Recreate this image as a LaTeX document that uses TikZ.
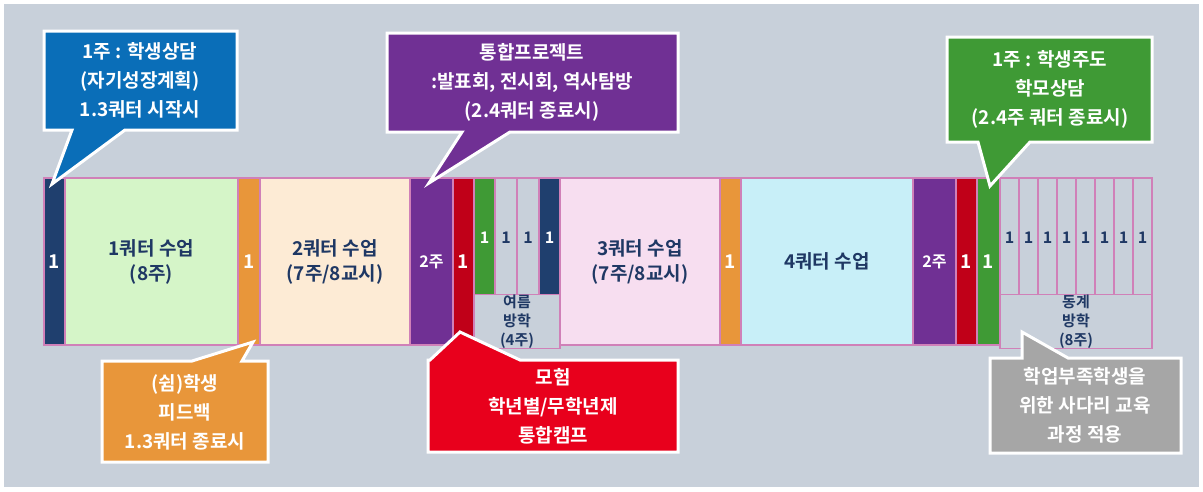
\documentclass[tikz,border=0pt]{standalone}
\usepackage{fontspec}
\setmainfont{Noto Sans CJK KR}[BoldFont={Noto Sans CJK KR Bold}]
\definecolor{bg}{HTML}{C8D0DA}
\definecolor{navy}{HTML}{1F3F6E}
\definecolor{lgreen}{HTML}{D5F5C8}
\definecolor{orng}{HTML}{E8963A}
\definecolor{peach}{HTML}{FDEBD5}
\definecolor{purp}{HTML}{703094}
\definecolor{dred}{HTML}{C00018}
\definecolor{grn}{HTML}{3F9A35}
\definecolor{pink}{HTML}{F7DEF0}
\definecolor{cyan}{HTML}{C8EFF8}
\definecolor{bord}{HTML}{D080B8}
\definecolor{bblue}{HTML}{0A6EB8}
\definecolor{bred}{HTML}{E8001C}
\definecolor{bgray}{HTML}{A6A6A6}
\definecolor{txt}{HTML}{1F3864}
\newcommand{\mycell}[7]{%
 \pgfmathsetmacro{\cw}{#4-#2}\pgfmathsetmacro{\ch}{#5-#3}%
 \node[cellbox,#6,minimum width=\cw pt,minimum height=\ch pt] (#1) at ({(#2+#4)/2},{(#3+#5)/2}) {#7};}
\tikzset{cellbox/.style={draw=bord,line width=1.2pt,inner sep=0pt,text=txt,font=\bfseries\fontsize{19}{25}\selectfont,align=center},
 wt/.style={text=white},
 sm/.style={font=\bfseries\fontsize{16}{20}\selectfont},
 xs/.style={font=\bfseries\fontsize{15}{19}\selectfont},
 callout/.style={draw=white,line width=3pt,line join=miter},
 ctext/.style={text=white,font=\bfseries\fontsize{19}{29}\selectfont,align=center}}
\begin{document}
\begin{tikzpicture}[x=1pt,y=-1pt]
\fill[white] (0,0) rectangle (1203,491);
\fill[bg] (4,4) rectangle (1199,487);
\useasboundingbox (0,0) rectangle (1203,491);
\mycell{c1}{44}{178}{65}{345}{fill=navy,wt}{1}
\mycell{q1}{65}{178}{238}{345}{fill=lgreen}{1쿼터 수업\\(8주)}
\mycell{o1}{238}{178}{260}{345}{fill=orng,wt}{1}
\mycell{q2}{260}{178}{410}{345}{fill=peach}{2쿼터 수업\\(7주/8교시)}
\mycell{p1}{410}{178}{453}{345}{fill=purp,wt,sm}{2주}
\mycell{r1}{453}{178}{474}{345}{fill=dred,wt}{1}
\mycell{g1}{474}{178}{495}{298}{fill=grn,wt,sm}{1}
\mycell{s1}{495}{178}{517}{298}{fill=bg,sm}{1}
\mycell{s2}{517}{178}{539}{298}{fill=bg,sm}{1}
\mycell{n2}{539}{178}{560}{298}{fill=navy,wt,sm}{1}
\mycell{sum}{474}{298}{560}{345}{fill=bg,xs}{여름\\방학\\(4주)}
\mycell{q3}{560}{178}{720}{345}{fill=pink}{3쿼터 수업\\(7주/8교시)}
\mycell{o2}{720}{178}{741}{345}{fill=orng,wt}{1}
\mycell{q4}{741}{178}{913}{345}{fill=cyan}{4쿼터 수업}
\mycell{p2}{913}{178}{956}{345}{fill=purp,wt,sm}{2주}
\mycell{r2}{956}{178}{977}{345}{fill=dred,wt}{1}
\mycell{g2}{977}{178}{1000}{345}{fill=grn,wt}{1}
\foreach \i in {0,...,7}{\pgfmathsetmacro{\xa}{1000+19*\i}\pgfmathsetmacro{\xb}{1019+19*\i}
 \mycell{w\i}{\xa}{178}{\xb}{298}{fill=bg,sm}{1}}
\mycell{win}{1000}{298}{1152}{345}{fill=bg,xs}{동계\\방학\\(8주)}
% callouts
\coordinate (tb) at (52,184);
\draw[callout,fill=bblue] (44,31)--(237,31)--(237,130)--(125,130)--(tb)--(72,130)--(44,130)--cycle;
\node[ctext] (cb) at (140,80) {1주 : 학생상담\\(자기성장계획)\\1.3쿼터 시작시};
\coordinate (tp) at (429,183);
\draw[callout,fill=purp] (387,33)--(678,33)--(678,132)--(510,132)--(tp)--(462,132)--(387,132)--cycle;
\node[ctext] (cp) at (532,82) {통합프로젝트\\:발표회, 전시회, 역사탐방\\(2.4쿼터 종료시)};
\coordinate (tg) at (990,186);
\draw[callout,fill=grn] (947,37)--(1152,37)--(1152,142)--(1030,142)--(tg)--(978,142)--(947,142)--cycle;
\node[ctext] (cg) at (1050,89) {1주 : 학생주도\\학모상담\\(2.4주 쿼터 종료시)};
\coordinate (to) at (253,342);
\draw[callout,fill=orng] (102,361)--(192,361)--(to)--(242,361)--(268,361)--(268,462)--(102,462)--cycle;
\node[ctext] (co) at (185,412) {(쉼)학생\\피드백\\1.3쿼터 종료시};
\coordinate (tr) at (460,332);
\draw[callout,fill=bred] (428,360)--(430,360)--(tr)--(520,360)--(678,360)--(678,452)--(428,452)--cycle;
\node[ctext] (cr) at (553,406) {모험\\학년별/무학년제\\통합캠프};
\coordinate (ty) at (1022,332);
\draw[callout,fill=bgray] (990,358)--(1022,358)--(ty)--(1068,358)--(1181,358)--(1181,453)--(990,453)--cycle;
\node[ctext] (cy) at (1085,405) {학업부족학생을\\위한 사다리 교육\\과정 적용};
\end{tikzpicture}
\end{document}
